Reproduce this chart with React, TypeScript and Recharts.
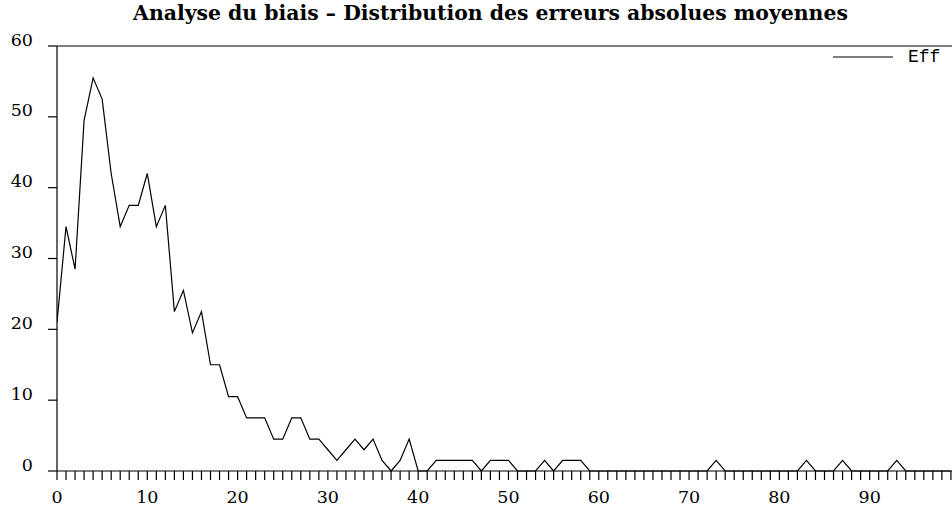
import React from 'react';
import { LineChart, Line, XAxis, YAxis, ReferenceLine, Legend } from 'recharts';

const titleText = 'Analyse du biais \u2013 Distribution des erreurs absolues moyennes';
const seriesName = 'Eff';

// Values for x = 0 .. 99
const effValues = [
  21, 34.5, 28.5, 49.5, 55.5, 52.5, 42, 34.5, 37.5, 37.5,
  42, 34.5, 37.5, 22.5, 25.5, 19.5, 22.5, 15, 15, 10.5,
  10.5, 7.5, 7.5, 7.5, 4.5, 4.5, 7.5, 7.5, 4.5, 4.5,
  3, 1.5, 3, 4.5, 3, 4.5, 1.5, 0, 1.5, 4.5,
  0, 0, 1.5, 1.5, 1.5, 1.5, 1.5, 0, 1.5, 1.5,
  1.5, 0, 0, 0, 1.5, 0, 1.5, 1.5, 1.5, 0,
  0, 0, 0, 0, 0, 0, 0, 0, 0, 0,
  0, 0, 0, 1.5, 0, 0, 0, 0, 0, 0,
  0, 0, 0, 1.5, 0, 0, 0, 1.5, 0, 0,
  0, 0, 0, 1.5, 0, 0, 0, 0, 0, 0,
];

const xTicks = effValues.map((_, i) => i);
const xLabelTicks = [0, 10, 20, 30, 40, 50, 60, 70, 80, 90];
const yTicks = [0, 10, 20, 30, 40, 50, 60];

const data = effValues.map((v, i) => ({ x: i, eff: v }));

const SERIF = '"DejaVu Serif", serif';

const XTick = (props: any) => {
  const { x, y, payload } = props;
  if (!xLabelTicks.includes(payload.value)) return <g />;
  return (
    <text x={x} y={y + 23} textAnchor="middle" fill="#000" fontSize={17.5} fontFamily={SERIF}>
      {payload.value}
    </text>
  );
};

const YTick = (props: any) => {
  const { x, y, payload } = props;
  return (
    <text x={x} y={y - 0.5} textAnchor="end" fill="#000" fontSize={17.5} fontFamily={SERIF}>
      {payload.value}
    </text>
  );
};

const renderLegend = () => (
  <div style={{ display: 'flex', alignItems: 'center', height: 20 }}>
    <svg width={60} height={20} style={{ display: 'block' }}>
      <line x1={0} x2={60} y1={10} y2={10} stroke="#000" strokeWidth={1.2} />
    </svg>
    <span style={{ marginLeft: 15, fontFamily: '"Liberation Mono", monospace', fontSize: 18, color: '#000', lineHeight: '20px' }}>
      {seriesName}
    </span>
  </div>
);

export default function App() {
  return (
    <div style={{ position: 'absolute', left: 0, top: 0, width: 952, height: 508, background: '#fff' }}>
      <svg width={952} height={40} style={{ position: 'absolute', left: 0, top: 0 }}>
        <text x={490.5} y={20} textAnchor="middle" fontFamily={SERIF} fontWeight="bold" fontSize={20.4} fill="#000">
          {titleText}
        </text>
      </svg>
      <div style={{ position: 'absolute', left: 0, top: 0 }}>
        <LineChart width={952} height={508} data={data} margin={{ top: 46, right: 0, bottom: 0, left: 0 }}>
          <XAxis
            dataKey="x"
            type="number"
            domain={[0, 99.12]}
            ticks={xTicks}
            interval={0}
            tickSize={9}
            tickMargin={0}
            height={37}
            axisLine={{ stroke: '#000', strokeWidth: 1.2 }}
            tickLine={{ stroke: '#000', strokeWidth: 1.2 }}
            tick={<XTick />}
            allowDataOverflow
          />
          <YAxis
            type="number"
            domain={[0, 60]}
            ticks={yTicks}
            interval={0}
            width={57}
            tickSize={9}
            tickMargin={15}
            axisLine={{ stroke: '#000', strokeWidth: 1.2 }}
            tickLine={{ stroke: '#000', strokeWidth: 1.2 }}
            tick={<YTick />}
          />
          <ReferenceLine y={60} stroke="#000" strokeWidth={1.2} />
          <Legend
            layout="horizontal"
            verticalAlign="middle"
            align="center"
            content={renderLegend}
            wrapperStyle={{ position: 'absolute', top: 47, left: 833, width: 'auto', height: 20 }}
          />
          <Line
            type="linear"
            dataKey="eff"
            name={seriesName}
            stroke="#000"
            strokeWidth={1.2}
            dot={false}
            activeDot={false}
            isAnimationActive={false}
          />
        </LineChart>
      </div>
    </div>
  );
}
